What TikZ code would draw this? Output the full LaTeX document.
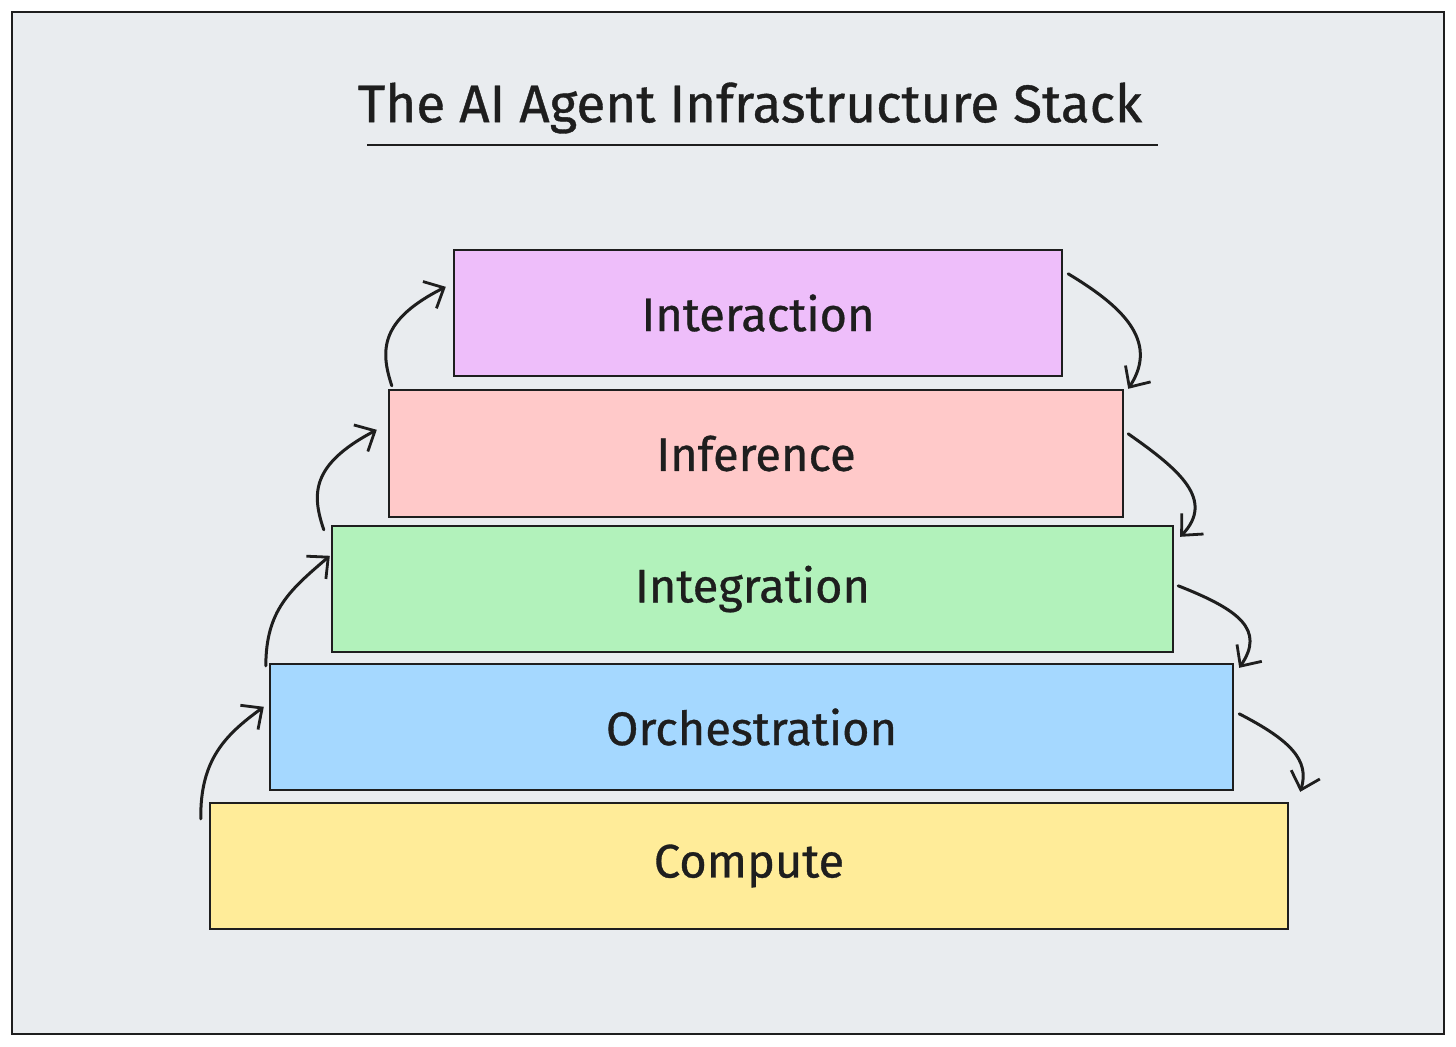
\documentclass[tikz,border=0pt]{standalone}
\usepackage{fontspec}
\setmainfont{Fira Sans}
\newfontfamily\handfont[FakeBold=0.7]{Fira Sans}
\usetikzlibrary{arrows.meta}
\definecolor{bgc}{HTML}{E9ECEF}
\definecolor{cpurple}{HTML}{EEBEFA}
\definecolor{cred}{HTML}{FFC9C9}
\definecolor{cgreen}{HTML}{B2F2BB}
\definecolor{cblue}{HTML}{A5D8FF}
\definecolor{cyellow}{HTML}{FFEC99}
\definecolor{ink}{HTML}{1E1E1E}
\tikzset{
  layer/.style={draw=ink, line width=1.2pt, rectangle, inner sep=0pt, minimum height=63pt,
    font=\handfont\fontsize{23.5}{28}\selectfont, text=ink},
  flow/.style={draw=ink, line width=1.5pt, line cap=round,
    -{Straight Barb[length=8pt,width=15pt,line width=1.4pt]}},
}
\begin{document}
\begin{tikzpicture}[x=0.5pt,y=-0.5pt]
\useasboundingbox (0,0) rectangle (1456,1046);
\fill[white] (0,0) rectangle (1456,1046);
\draw[ink, line width=1pt, fill=bgc] (12,12) rectangle (1444,1034);
\node[font=\handfont\fontsize{26.5}{32}\selectfont, text=ink] (title) at (750,108) {The AI Agent Infrastructure Stack};
\coordinate (ul1) at (367,145);
\coordinate (ul2) at (1158,145);
\draw[ink, line width=1.1pt] (ul1) -- (ul2);

\node[layer, fill=cpurple, minimum width=304pt] (inter) at (758,313) {Interaction};
\node[layer, fill=cred, minimum width=367pt, minimum height=63.5pt] (infer) at (756,453.5) {Inference};
\node[layer, fill=cgreen, minimum width=420.5pt] (integ) at (752.5,589) {Integration};
\node[layer, fill=cblue, minimum width=481.5pt] (orch) at (751.5,727) {Orchestration};
\node[layer, fill=cyellow, minimum width=539pt] (comp) at (749,866) {Compute};

% left arrows (upwards)
\draw[flow] ([shift={(-8,17)}]comp.north west) .. controls (200,760) and (225,735) .. ([shift={(-5,44)}]orch.north west);
\draw[flow] ([shift={(-3,3)}]orch.north west) .. controls (266,610) and (290,590) .. ([shift={(-1,31)}]integ.north west);
\draw[flow] ([shift={(-7,5)}]integ.north west) .. controls (312,495) and (310,465) .. ([shift={(-11,41)}]infer.north west);
\draw[flow] ([shift={(4,-3)}]infer.north west) .. controls (380,350) and (380,320) .. ([shift={(-7,38)}]inter.north west);

% right arrows (downwards)
\draw[flow] ([shift={(5,25)}]inter.north east) .. controls (1120,305) and (1160,340) .. ([shift={(4,0)}]infer.north east);
\draw[flow] ([shift={(4,45)}]infer.north east) .. controls (1180,470) and (1215,500) .. ([shift={(6,12)}]integ.north east);
\draw[flow] ([shift={(4,61)}]integ.north east) .. controls (1240,610) and (1265,630) .. ([shift={(5,5)}]orch.north east);
\draw[flow] ([shift={(5,51)}]orch.north east) .. controls (1290,740) and (1310,760) .. ([shift={(11,-10)}]comp.north east);
\end{tikzpicture}
\end{document}
